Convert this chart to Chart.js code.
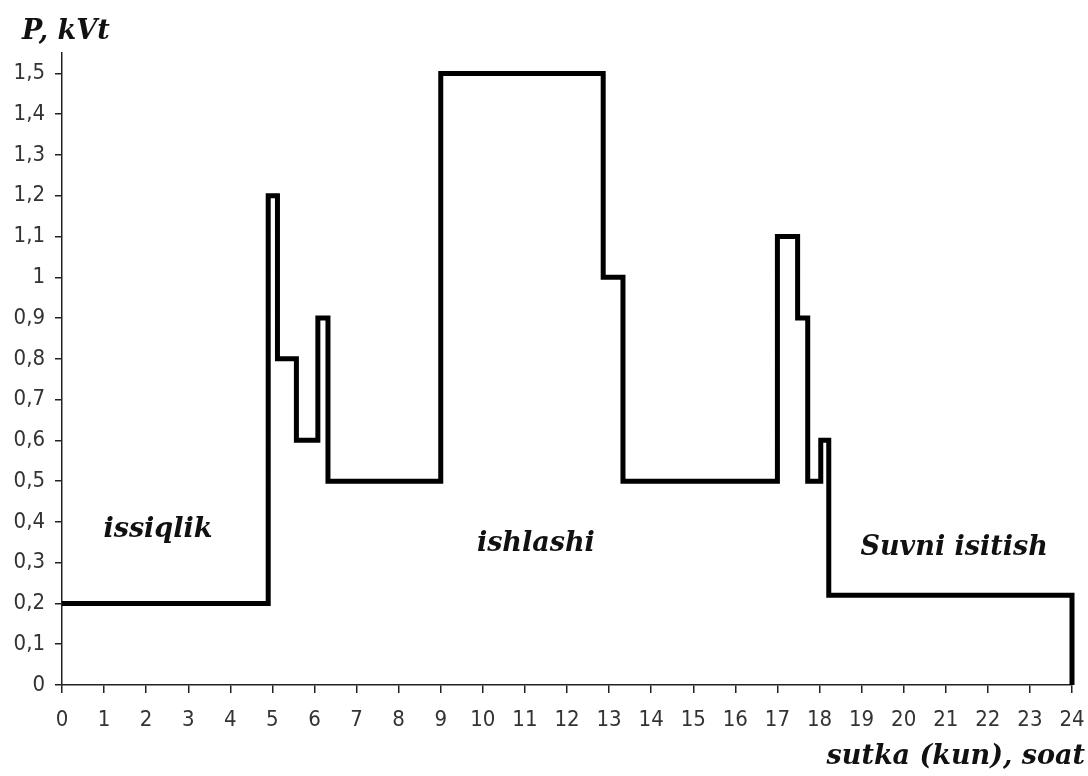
<!DOCTYPE html>
<html>
<head>
<meta charset="utf-8">
<script src="https://cdn.jsdelivr.net/npm/chart.js@4/dist/chart.umd.min.js"></script>
<style>
  body{margin:0;background:#fff;}
  canvas{display:block;}
</style>
</head>
<body>
<canvas id="grafik" width="1088" height="776"></canvas>
<script>
// soat (x) va quvvat (y) - pog'onali grafik nuqtalari
const soatlar = [0, 4.9, 5.12, 5.57, 6.08, 6.32, 9, 12.86, 13.33, 17, 17.48, 17.72, 18.03, 18.22, 24];
const quvvat  = [0.2, 1.2, 0.8, 0.6, 0.9, 0.5, 1.5, 1.0, 0.5, 1.1, 0.9, 0.5, 0.6, 0.22, 0];

const xTicks = [0,1,2,3,4,5,6,7,8,9,10,11,12,13,14,15,16,17,18,19,20,21,22,23,24];
const yTicks = [0,0.1,0.2,0.3,0.4,0.5,0.6,0.7,0.8,0.9,1,1.1,1.2,1.3,1.4,1.5];

// yozuvlar: matn, soat, quvvat
const yozuvMatn = ["issiqlik", "ishlashi", "Suvni isitish"];
const yozuvX = [2.28, 11.26, 21.2];
const yozuvY = [0.38, 0.345, 0.337];

const nuqtalar = soatlar.map((s, i) => ({x: s, y: quvvat[i]}));

const tickFont = {family: "'DejaVu Sans Condensed', 'Liberation Sans Narrow', sans-serif", size: 22};
const sarlavhaFont = "italic bold 27px 'DejaVu Serif', 'Liberation Serif', serif";

const yozuvlar = {
    id: "yozuvlar",
    afterDraw(chart){
        const c = chart.ctx;
        const sx = chart.scales.x, sy = chart.scales.y;
        c.save();
        c.fillStyle = "#111";
        c.font = sarlavhaFont;
        c.textBaseline = "middle";
        c.textAlign = "center";
        yozuvMatn.forEach((t, i) => {
            c.fillText(t, sx.getPixelForValue(yozuvX[i]), sy.getPixelForValue(yozuvY[i]));
        });
        c.textAlign = "left";
        c.fillText("P, kVt", 22, 32);
        c.textAlign = "right";
        c.fillText("sutka (kun), soat", 1085, 757);
        c.restore();
    }
};

new Chart(document.getElementById("grafik"), {
    type: "line",
    data: {
        datasets: [{
            data: nuqtalar,
            stepped: "before",
            borderColor: "#000",
            borderWidth: 5,
            pointRadius: 0,
            fill: false,
            clip: false
        }]
    },
    options: {
        responsive: false,
        animation: false,
        devicePixelRatio: 1,
        layout: {padding: {top: 53, right: 16, left: 0, bottom: 0}},
        plugins: {legend: {display: false}, tooltip: {enabled: false}},
        scales: {
            x: {
                type: "linear",
                min: 0,
                max: 24,
                afterBuildTicks: s => { s.ticks = xTicks.map(v => ({value: v})); },
                afterFit: s => { s.height = 91; s.paddingLeft = 0; s.paddingRight = 0; },
                grid: {display: true, drawOnChartArea: false, drawTicks: true, tickLength: 8, color: "#222", lineWidth: 1.5},
                border: {display: true, color: "#222", width: 1.5},
                ticks: {color: "#333", font: tickFont, padding: 14, maxRotation: 0, autoSkip: false}
            },
            y: {
                min: 0,
                max: 1.55,
                afterBuildTicks: s => { s.ticks = yTicks.map(v => ({value: v})); },
                afterFit: s => { s.width = 62; s.paddingTop = 0; s.paddingBottom = 0; },
                grid: {display: true, drawOnChartArea: false, drawTicks: true, tickLength: 7, color: "#222", lineWidth: 1.5},
                border: {display: true, color: "#222", width: 1.5},
                ticks: {
                    color: "#333",
                    font: tickFont,
                    padding: 10,
                    autoSkip: false,
                    callback: v => String(Math.round(v * 10) / 10).replace(".", ",")
                }
            }
        }
    },
    plugins: [yozuvlar]
});
</script>
</body>
</html>
